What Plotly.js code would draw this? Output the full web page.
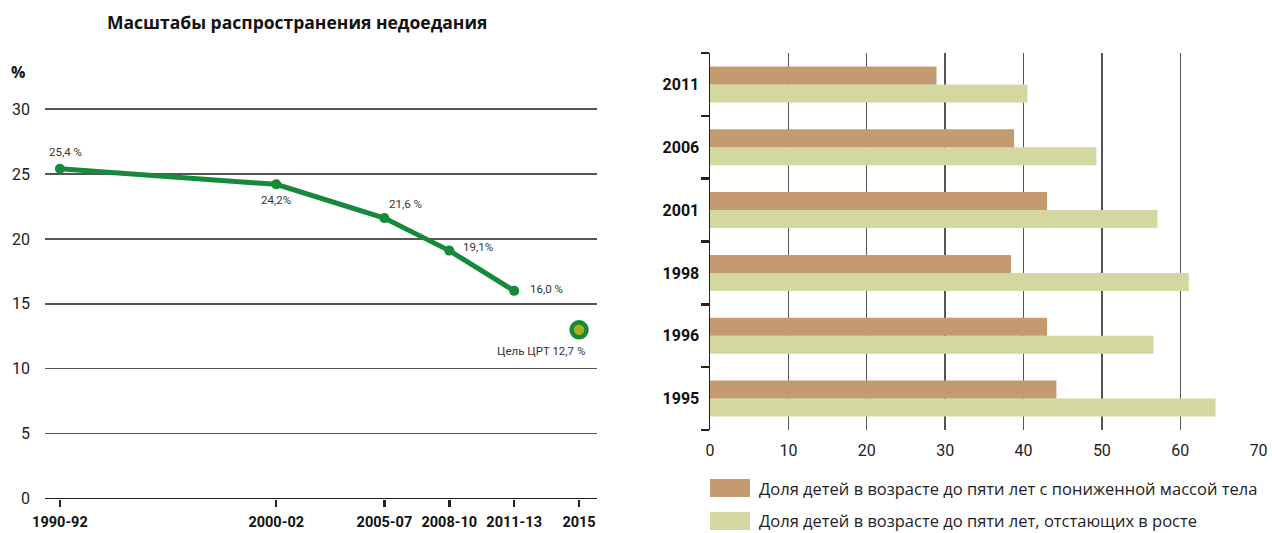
<!DOCTYPE html>
<html>
<head>
<meta charset="utf-8">
<script src="https://cdn.plot.ly/plotly-3.0.1.min.js"></script>
<style>
  html, body { margin: 0; padding: 0; background: #fff; }
  #chart { width: 1272px; height: 533px; }
</style>
</head>
<body>
<div id="chart"></div>
<script>
// ---- Left chart: prevalence of undernourishment ----
const periodYears = [1991, 2001, 2006, 2009, 2012];
const periodLabels = ["1990-92", "2000-02", "2005-07", "2008-10", "2011-13"];
const undernourishment = [25.4, 24.2, 21.6, 19.1, 16.0];
const pointLabels = ["25,4 %", "24,2%", "21,6 %", "19,1%", "16,0 %"];
const goalYear = [2015];
const goalLabel = ["2015"];
const goalValue = [13.0];
const goalText = "Цель ЦРТ 12,7 %";
const leftTitle = "Масштабы распространения недоедания";
const leftYTicks = [0, 5, 10, 15, 20, 25, 30];

// ---- Right chart: children under five ----
const surveyYears = ["1995", "1996", "1998", "2001", "2006", "2011"];
const underweight = [44.2, 43.0, 38.4, 43.0, 38.8, 28.9];
const stunting = [64.5, 56.6, 61.1, 57.1, 49.3, 40.5];
const seriesNames = [
  "Доля детей в возрасте до пяти лет с пониженной массой тела",
  "Доля детей в возрасте до пяти лет, отстающих в росте"
];
const rightXTicks = [0, 10, 20, 30, 40, 50, 60, 70];

const FONT = "Roboto, 'Open Sans', sans-serif";
const FONT2 = "'Open Sans', Roboto, sans-serif";
const W = 1272, H = 533;
const px = v => v / W;
const py = v => (H - v) / H;

const lineGreen = "#168a3a";
const brown = "#c49b70";
const pale = "#d4d8a0";

const traces = [
  {
    x: periodYears, y: undernourishment, type: "scatter", mode: "lines+markers",
    line: { color: lineGreen, width: 5 },
    marker: { color: lineGreen, size: 10 },
    xaxis: "x", yaxis: "y", showlegend: false, hoverinfo: "skip"
  },
  {
    x: goalYear, y: goalValue, type: "scatter", mode: "markers",
    marker: { color: "#a9ae1e", size: 15, line: { color: lineGreen, width: 4.5 } },
    xaxis: "x", yaxis: "y", showlegend: false, hoverinfo: "skip"
  },
  {
    y: surveyYears, x: stunting, type: "bar", orientation: "h", name: seriesNames[1],
    marker: { color: pale },
    xaxis: "x2", yaxis: "y2", showlegend: false, hoverinfo: "skip"
  },
  {
    y: surveyYears, x: underweight, type: "bar", orientation: "h", name: seriesNames[0],
    marker: { color: brown },
    xaxis: "x2", yaxis: "y2", showlegend: false, hoverinfo: "skip"
  }
];

const labelShifts = [[6, 17], [0, -16], [21, 14], [29, 4], [32, 2]];
const annotations = periodYears.map((yr, i) => ({
  x: yr, y: undernourishment[i], xref: "x", yref: "y",
  text: pointLabels[i], showarrow: false,
  xshift: labelShifts[i][0], yshift: labelShifts[i][1],
  font: { family: FONT, size: 11.5, color: "#333" }
}));
annotations.push({
  x: goalYear[0], y: goalValue[0], xref: "x", yref: "y",
  text: goalText, showarrow: false, xshift: -38, yshift: -21,
  font: { family: FONT, size: 11.5, color: "#333" }
});
annotations.push({
  x: px(297), y: py(22), xref: "paper", yref: "paper", xanchor: "center", yanchor: "middle",
  text: "<b>" + leftTitle + "</b>", showarrow: false,
  font: { family: FONT2, size: 17.5, color: "#111" }
});
annotations.push({
  x: px(18), y: py(72), xref: "paper", yref: "paper", xanchor: "center", yanchor: "middle",
  text: "<b>%</b>", showarrow: false,
  font: { family: FONT2, size: 16, color: "#111" }
});
// legend texts
annotations.push({
  x: px(757), y: py(488), xref: "paper", yref: "paper", xanchor: "left", yanchor: "middle",
  text: seriesNames[0], showarrow: false, font: { family: FONT2, size: 16.5, color: "#222" }
});
annotations.push({
  x: px(757), y: py(520), xref: "paper", yref: "paper", xanchor: "left", yanchor: "middle",
  text: seriesNames[1], showarrow: false, font: { family: FONT2, size: 16.5, color: "#222" }
});

const shapes = [
  { type: "rect", xref: "paper", yref: "paper", x0: px(710), x1: px(750), y0: py(497), y1: py(479),
    fillcolor: brown, line: { width: 0 } },
  { type: "rect", xref: "paper", yref: "paper", x0: px(710), x1: px(750), y0: py(530), y1: py(512),
    fillcolor: pale, line: { width: 0 } }
];

const layout = {
  width: W, height: H,
  margin: { l: 0, r: 0, t: 0, b: 0, pad: 0 },
  paper_bgcolor: "#fff", plot_bgcolor: "#fff",
  font: { family: FONT, color: "#222" },
  barmode: "group", bargap: 0.427, bargroupgap: 0,
  xaxis: {
    domain: [px(45), px(597)], range: [1990.31, 2015.83],
    tickmode: "array", tickvals: periodYears.concat(goalYear), ticktext: periodLabels.concat(goalLabel),
    ticks: "outside", ticklen: 7, tickwidth: 2.5, tickcolor: "#222", ticklabelstandoff: 3,
    tickfont: { family: FONT, size: 14.5, color: "#111", weight: "bold" },
    showgrid: false, zeroline: false, showline: false, fixedrange: true
  },
  yaxis: {
    domain: [py(498.7), py(99.9)], range: [0, 30.7],
    tickmode: "array", tickvals: leftYTicks,
    ticks: "", ticklabelstandoff: 14,
    tickfont: { family: FONT, size: 16, color: "#222" },
    showgrid: true, gridcolor: "#555", gridwidth: 1.3,
    zeroline: true, zerolinecolor: "#222", zerolinewidth: 1.5,
    showline: false, fixedrange: true
  },
  xaxis2: {
    domain: [px(710), px(1259)], range: [0, 70.05], anchor: "y2",
    tickmode: "array", tickvals: rightXTicks,
    ticks: "", ticklabelstandoff: 9,
    tickfont: { family: FONT, size: 16, color: "#222" },
    showgrid: true, gridcolor: "#555", gridwidth: 1.4,
    zeroline: false, showline: false, fixedrange: true
  },
  yaxis2: {
    domain: [py(430), py(53)], anchor: "x2", type: "category",
    categoryorder: "array", categoryarray: surveyYears,
    tickson: "boundaries", ticks: "outside", ticklen: 8, tickwidth: 2.5, tickcolor: "#222",
    ticklabelstandoff: 6,
    tickfont: { family: FONT, size: 16, color: "#111", weight: "bold" },
    showline: true, linecolor: "#222", linewidth: 1.5,
    showgrid: false, zeroline: false, fixedrange: true
  },
  annotations: annotations,
  shapes: shapes
};

Plotly.newPlot("chart", traces, layout, { displayModeBar: false, staticPlot: true });
</script>
</body>
</html>
